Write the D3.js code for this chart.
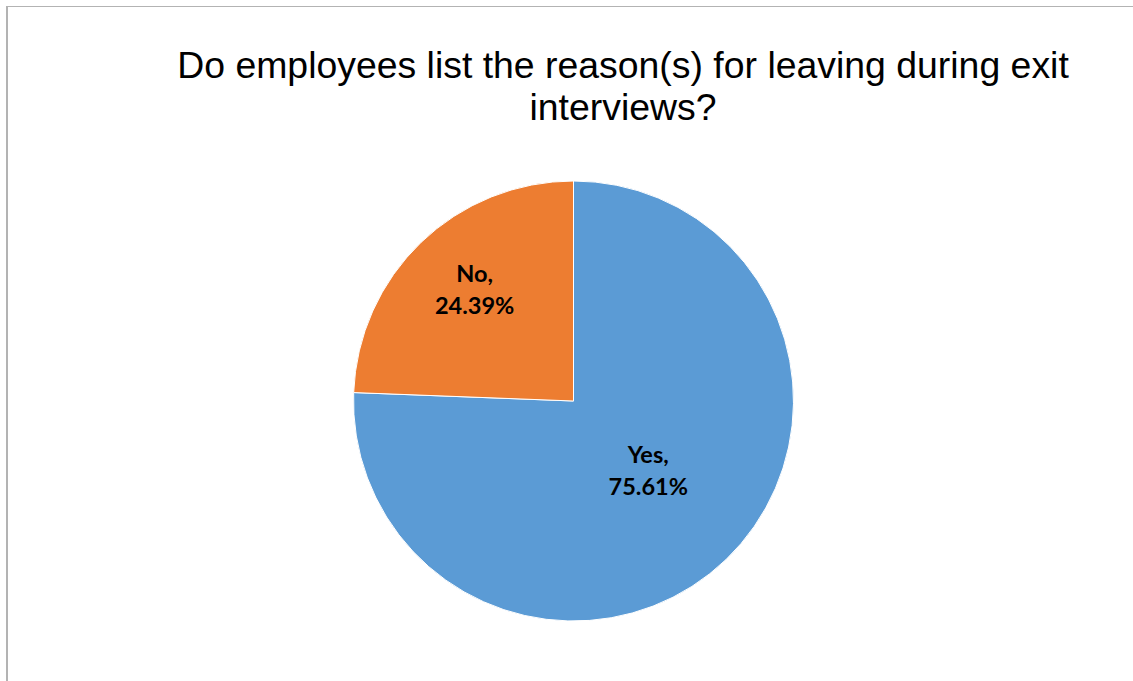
<!DOCTYPE html>
<html>
<head>
<meta charset="utf-8">
<script src="https://cdn.jsdelivr.net/npm/d3@7"></script>
<style>
  html, body { margin: 0; padding: 0; background: #fff; }
  svg { display: block; }
</style>
</head>
<body>
<svg id="chart" width="1133" height="681"></svg>
<script>
// Survey answers and their shares (percent)
const categories = ["Yes", "No"];
const shares = [75.61, 24.39];
const titleLines = ["Do employees list the reason(s) for leaving during exit", "interviews?"];

const colors = { Yes: "#5B9BD5", No: "#ED7D31" };
// how far along the radius each data label sits
const labelRadiusFactor = { Yes: 0.49, No: 0.648 };

const W = 1133, H = 681;
const svg = d3.select("#chart");

// chart frame (left and top edges visible)
svg.append("line")
  .attr("x1", 6).attr("x2", W).attr("y1", 6.5).attr("y2", 6.5)
  .attr("stroke", "#b3b3b3").attr("stroke-width", 1);
svg.append("line")
  .attr("x1", 7).attr("x2", 7).attr("y1", 6).attr("y2", H)
  .attr("stroke", "#b3b3b3").attr("stroke-width", 2);

// title
const title = svg.append("text")
  .attr("text-anchor", "middle")
  .attr("font-family", "Liberation Sans, Arial, sans-serif")
  .attr("font-size", 37.4)
  .attr("fill", "#000");
titleLines.forEach((t, i) => {
  title.append("tspan").attr("x", 623).attr("y", 78 + i * 42).text(t);
});

// pie
const cx = 573.5, cy = 401, R = 220;
const data = categories.map((c, i) => ({ category: c, value: shares[i] }));
const pie = d3.pie().value(d => d.value).sort(null);
const arcs = pie(data);
const arc = d3.arc().innerRadius(0).outerRadius(R);

const g = svg.append("g").attr("transform", `translate(${cx},${cy})`);
g.selectAll("path.slice")
  .data(arcs)
  .join("path")
  .attr("class", "slice")
  .attr("d", arc)
  .attr("fill", d => colors[d.data.category])
  .attr("stroke", "#fff")
  .attr("stroke-width", 1);

// data labels: "Category," on one line and the percentage below
const labels = g.selectAll("text.label")
  .data(arcs)
  .join("text")
  .attr("class", "label")
  .attr("text-anchor", "middle")
  .attr("font-family", "Lato, 'Open Sans', sans-serif")
  .attr("font-weight", "bold")
  .attr("font-size", 23.5)
  .attr("fill", "#000")
  .attr("transform", d => {
    const r = R * labelRadiusFactor[d.data.category];
    const la = d3.arc().innerRadius(r).outerRadius(r);
    const [x, y] = la.centroid(d);
    return `translate(${x},${y})`;
  });
labels.append("tspan").attr("x", 0).attr("y", -16).text(d => d.data.category + ",");
labels.append("tspan").attr("x", 0).attr("y", 16).text(d => d.data.value.toFixed(2) + "%");
</script>
</body>
</html>
